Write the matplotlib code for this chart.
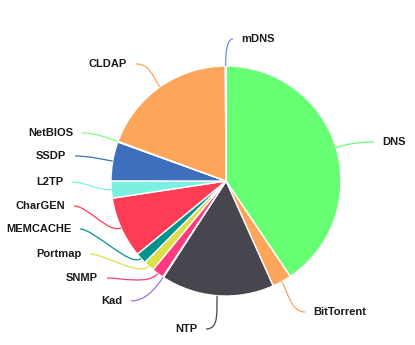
import numpy as np
import matplotlib.pyplot as plt
from matplotlib.path import Path
from matplotlib.patches import PathPatch

# share of traffic per protocol (%), clockwise from 12 o'clock
protocols = ['DNS', 'BitTorrent', 'NTP', 'Kad', 'SNMP', 'Portmap', 'MEMCACHE',
             'CharGEN', 'L2TP', 'SSDP', 'NetBIOS', 'CLDAP', 'mDNS']
shares = [40.6, 2.7, 15.9, 0.1, 1.7, 1.5, 1.55, 8.6, 2.4, 5.5, 0.1, 19.3, 0.1]
colors = ['#66ff73', '#fda55a', '#47454d', '#a070e0', '#ff3a7e', '#dce048', '#02948a',
          '#ff3c55', '#7cf0e0', '#3e6fbc', '#80ff80', '#fda55a', '#6794dc']

# label anchor points (pixel coords, y down) and text alignment
label_pos = {
    'DNS': (382, 142, 'left'), 'BitTorrent': (313, 312, 'left'), 'NTP': (197, 329, 'right'),
    'Kad': (122, 301, 'right'), 'SNMP': (98, 278, 'right'), 'Portmap': (81, 254, 'right'),
    'MEMCACHE': (71, 229, 'right'), 'CharGEN': (65, 206, 'right'), 'L2TP': (63, 182, 'right'),
    'SSDP': (66, 156, 'right'), 'NetBIOS': (73, 133, 'right'), 'CLDAP': (127, 64, 'right'),
    'mDNS': (241, 39, 'left'),
}

W, H = 415, 345
cx, cy, R = 226, H - 181, 115

fig = plt.figure(figsize=(W / 100, H / 100), dpi=100)
ax = fig.add_axes([0, 0, 1, 1])

wedges, _ = ax.pie(shares, colors=colors, startangle=90, counterclock=False,
                   center=(cx, cy), radius=R, normalize=True,
                   wedgeprops=dict(edgecolor='white', linewidth=1))
ax.set_xlim(0, W)
ax.set_ylim(0, H)
ax.set_aspect('equal')
ax.axis('off')

total = sum(shares)
start = 90.0
for name, val, col in zip(protocols, shares, colors):
    mid = np.radians(start - val / total * 360 / 2)
    start -= val / total * 360
    x0, y0 = cx + R * np.cos(mid), cy + R * np.sin(mid)
    x1, y1 = cx + (R + 14) * np.cos(mid), cy + (R + 14) * np.sin(mid)
    lx, ly, ha = label_pos[name]
    ly = H - ly
    ex = lx - 8 if ha == 'left' else lx + 9
    if name == 'mDNS':
        x2, y2 = ex - 6, ly
    else:
        x2, y2 = ex + (-14 if ha == 'left' else 14), ly
    path = Path([(x0, y0), (x1, y1), (x2, y2), (ex, ly)],
                [Path.MOVETO, Path.CURVE4, Path.CURVE4, Path.CURVE4])
    ax.add_patch(PathPatch(path, facecolor='none', edgecolor=col, lw=0.9))
    ax.text(lx, ly, name, ha=ha, va='center', fontsize=8.0, fontweight='bold',
            family='Liberation Sans', color='#1a1a1a')

plt.savefig('out.png', dpi=100)
plt.close()
